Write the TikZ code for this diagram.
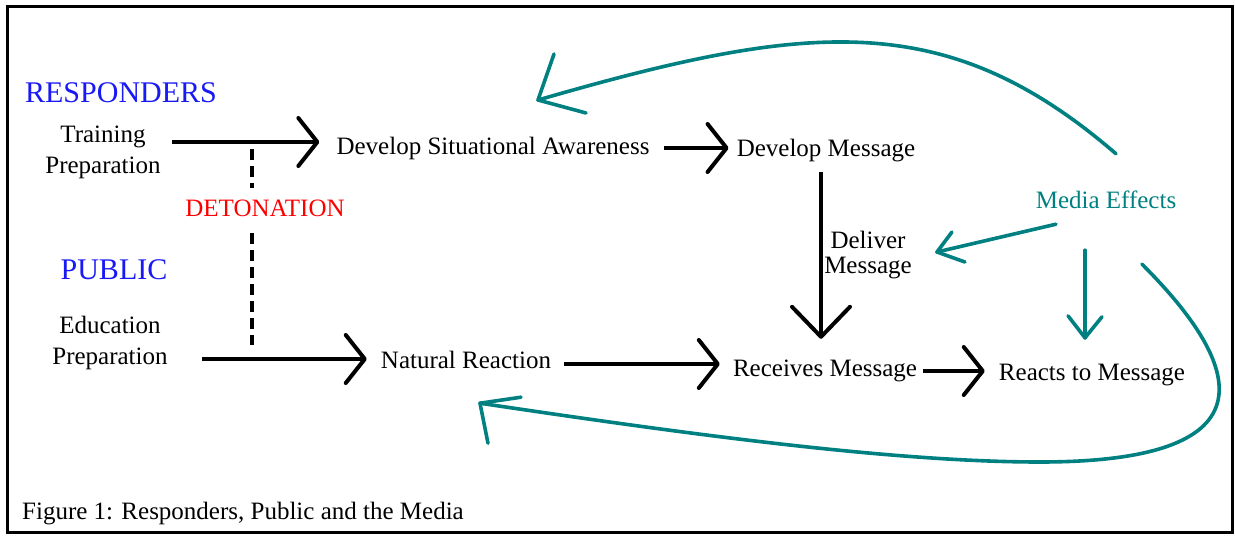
\documentclass[tikz,border=0pt]{standalone}
\usepackage{fontspec}
\setmainfont{Liberation Serif}
\usetikzlibrary{arrows.meta}
\definecolor{tealc}{RGB}{0,128,128}
\definecolor{bluec}{RGB}{25,25,245}
\definecolor{redc}{RGB}{255,0,0}
\begin{document}
\begin{tikzpicture}[x=1pt,y=-1pt,
  txt/.style={inner sep=0pt, font=\fontsize{25}{31}\selectfont, align=center},
  txtone/.style={inner sep=0pt, font=\fontsize{25}{31}\selectfont, text height=17pt, text depth=5pt},
  big/.style={inner sep=0pt, font=\fontsize{30}{36}\selectfont, text=bluec},
  barrow/.style={line width=4pt, -{Straight Barb[length=19pt,width=48pt,line width=4pt,round]}},
  vbarrow/.style={line width=4pt, -{Straight Barb[length=30pt,width=58pt,line width=4pt,round]}},
  tline/.style={line width=3.6pt, draw=tealc, line cap=round, line join=round},
  dline/.style={line width=4pt, dash pattern=on 11pt off 6pt}]
\useasboundingbox (0,0) rectangle (1235,538);
\draw[line width=3pt] (7,6) rectangle (1232,532);

% text nodes
\node[big] (resp) at (121,93) {RESPONDERS};
\node[txt] (tp) at (103,152) {Training\\Preparation};
\node[txtone,text=redc] (det) at (265,210) {DETONATION};
\node[big] (pub) at (114,270) {PUBLIC};
\node[txt] (ep) at (110,343) {Education\\Preparation};
\node[txtone] (dsa) at (493,148) {Develop Situational Awareness};
\node[txtone] (dm) at (826,150) {Develop Message};
\node[txt, font=\fontsize{25}{25}\selectfont] (dlv) at (868,255) {Deliver\\Message};
\node[txtone] (nr) at (466,362) {Natural Reaction};
\node[txtone] (rm) at (825,370) {Receives Message};
\node[txtone] (rtm) at (1092,374) {Reacts to Message};
\node[txtone,text=tealc] (me) at (1106,202) {Media Effects};
\node[txtone,anchor=west] (cap) at (22,513) {Figure 1: Responders, Public and the Media};

% black arrows
\draw[barrow] ([shift={(11,-10)}]tp.east) -- ([shift={(-17,-6)}]dsa.west);
\draw[barrow] ([shift={(34,16)}]ep.east) -- ([shift={(-14,-3)}]nr.west);
\draw[barrow] ([shift={(14,0)}]dsa.east) -- ([shift={(-8,-2)}]dm.west);
\draw[barrow] ([shift={(13,2)}]nr.east) -- ([shift={(-13,-6)}]rm.west);
\draw[barrow] ([shift={(6,1)}]rm.east) -- ([shift={(-14,-3)}]rtm.west);
\draw[vbarrow] ([shift={(-5,11)}]dm.south) -- ([shift={(-4,-20)}]rm.north);

% detonation dashed line
\coordinate (d1) at (252,149);
\coordinate (d2) at (252,188);
\coordinate (d3) at (252,233);
\coordinate (d4) at (252,345);
\draw[dline] (d1) -- (d2);
\draw[dline] (d3) -- (d4);

% teal media arrows
\coordinate (aS) at ([shift={(10,-37)}]me.north);
\coordinate (aT) at (538,100);
\draw[tline] (aS) .. controls (946,7) and (808,22) .. (aT);
\draw[tline] (aT) ++(16,-46) -- (aT) -- ++(48,13);

\coordinate (bS) at ([shift={(-50,11)}]me.south);
\coordinate (bT) at ([shift={(25,-3)}]dlv.east);
\draw[tline] (bS) -- (bT);
\draw[tline] (bT) ++(15,-20) -- (bT) -- ++(28,10);

\coordinate (cS) at ([shift={(-21,37)}]me.south);
\coordinate (cT) at ([shift={(-7,-25)}]rtm.north);
\draw[tline] (cS) -- (cT);
\draw[tline] (cT) ++(-17,-22) -- (cT) -- ++(17,-21);

\coordinate (eS) at ([shift={(36,51)}]me.south);
\coordinate (eT) at ([shift={(14,30)}]nr.south);
\coordinate (eM) at (1040,462);
\draw[tline] (eS) .. controls (1252,374) and (1266,462) .. (eM)
  .. controls (890,462) and (680,433) .. (eT);
\draw[tline] (eT) ++(41,-6) -- (eT) -- ++(8,40);
\end{tikzpicture}
\end{document}
